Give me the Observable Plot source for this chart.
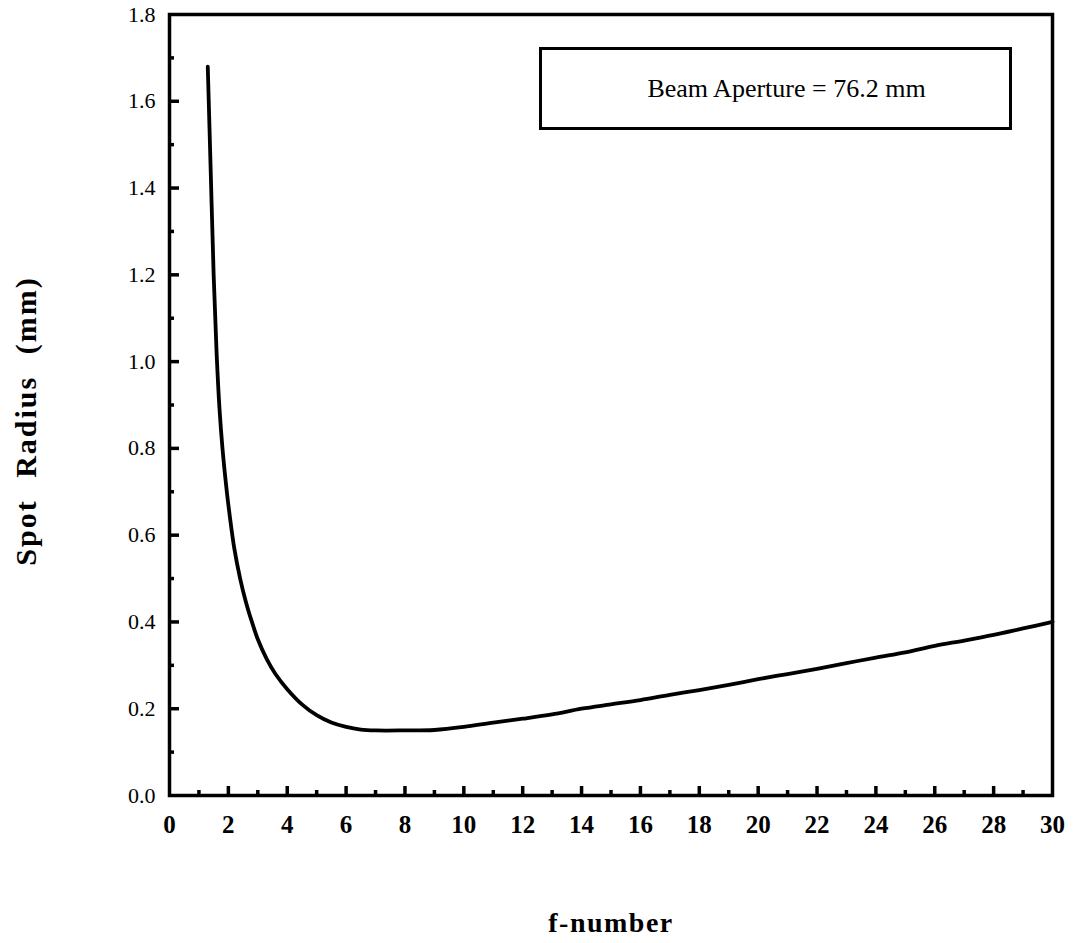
<!DOCTYPE html>
<html>
<head>
<meta charset="utf-8">
<script src="https://cdn.jsdelivr.net/npm/d3@7"></script>
<script src="https://cdn.jsdelivr.net/npm/@observablehq/plot@0.6"></script>
<style>
  html, body { margin: 0; padding: 0; background: #fff; }
  #wrap { position: relative; width: 1074px; height: 943px; }
  #legend {
    position: absolute; left: 539px; top: 47px; width: 445px; height: 77px;
    border: 3px solid #000; display: flex; align-items: center; justify-content: center;
    font-family: "Liberation Serif", "DejaVu Serif", serif; font-size: 26px; color: #000;
    padding-left: 22px; box-sizing: content-box;
  }
</style>
</head>
<body>
<div id="wrap"></div>
<script>
// ---- data ----
const fNumber = [1.3, 1.4, 1.5, 1.6, 1.7, 1.8, 1.9, 2.0, 2.2, 2.4, 2.6, 2.8, 3.0, 3.3, 3.6, 4.0, 4.5, 5.0, 5.5, 6.0, 6.5, 7.0, 8.0, 9.0, 10, 11, 12, 13, 14, 15, 16, 17, 18, 19, 20, 21, 22, 23, 24, 25, 26, 27, 28, 29, 30];
const spotRadius = [1.68, 1.44, 1.20, 1.02, 0.89, 0.80, 0.73, 0.67, 0.57, 0.50, 0.445, 0.40, 0.36, 0.315, 0.28, 0.245, 0.21, 0.185, 0.168, 0.158, 0.152, 0.150, 0.150, 0.151, 0.158, 0.168, 0.177, 0.187, 0.200, 0.210, 0.220, 0.232, 0.243, 0.255, 0.268, 0.280, 0.292, 0.305, 0.318, 0.330, 0.345, 0.357, 0.370, 0.385, 0.400];
const xTicks = [0, 2, 4, 6, 8, 10, 12, 14, 16, 18, 20, 22, 24, 26, 28, 30];
const xMinorTicks = [1, 3, 5, 7, 9, 11, 13, 15, 17, 19, 21, 23, 25, 27, 29];
const yTicks = [0.0, 0.2, 0.4, 0.6, 0.8, 1.0, 1.2, 1.4, 1.6, 1.8];
const yMinorTicks = [0.1, 0.3, 0.5, 0.7, 0.9, 1.1, 1.3, 1.5, 1.7];
const legendText = "Beam Aperture = 76.2 mm";
const xLabel = "f-number";
const yLabel = "Spot Radius (mm)";

const data = fNumber.map((f, i) => ({f, r: spotRadius[i]}));

const W = 1074, H = 943;
const mL = 169, mR = 22, mT = 14, mB = 148;
const xDom = [0, 30], yDom = [0, 1.8];
const innerW = W - mL - mR, innerH = H - mT - mB;
const pxY = (yDom[1] - yDom[0]) / innerH;
const pxX = (xDom[1] - xDom[0]) / innerW;

const serif = "'Liberation Serif', 'DejaVu Serif', serif";

const chart = Plot.plot({
  width: W, height: H,
  marginLeft: mL, marginRight: mR, marginTop: mT, marginBottom: mB,
  style: {fontFamily: serif, background: "#fff", color: "#000"},
  x: {domain: xDom},
  y: {domain: yDom},
  marks: [
    // inward ticks
    Plot.ruleX(xTicks.filter(d => d > 0 && d < 30), {x: d => d, y1: yDom[0], y2: yDom[0] + 9 * pxY, stroke: "#000", strokeWidth: 3.5}),
    Plot.ruleX(xMinorTicks, {x: d => d, y1: yDom[0], y2: yDom[0] + 5 * pxY, stroke: "#000", strokeWidth: 3.5}),
    Plot.ruleY(yTicks.filter(d => d > 0 && d < 1.8), {y: d => d, x1: xDom[0], x2: xDom[0] + 10 * pxX, stroke: "#000", strokeWidth: 3.5}),
    Plot.ruleY(yMinorTicks, {y: d => d, x1: xDom[0], x2: xDom[0] + 5 * pxX, stroke: "#000", strokeWidth: 3.5}),
    Plot.axisX({ticks: xTicks, tickSize: 0, tickPadding: 20, fontSize: 25, fontWeight: "bold", tickFormat: d => String(d), label: null}),
    Plot.axisY({ticks: yTicks, tickSize: 0, tickPadding: 14, fontSize: 22, tickFormat: d => d.toFixed(1), label: null}),
    Plot.line(data, {x: "f", y: "r", stroke: "#000", strokeWidth: 3.8, curve: "catmull-rom"}),
    Plot.frame({stroke: "#000", strokeWidth: 3.5}),
    Plot.text([xLabel], {frameAnchor: "bottom", text: d => d, dy: 136, fontSize: 28, fontWeight: "bold", fill: "#000"}),
    Plot.text([yLabel], {frameAnchor: "left", textAnchor: "middle", text: d => d, dx: -143, dy: 16, rotate: -90, fontSize: 30, fontWeight: "bold", fill: "#000"})
  ]
});

const wrap = document.getElementById("wrap");
wrap.appendChild(chart);
const lg = document.createElement("div");
lg.id = "legend";
lg.textContent = legendText;
wrap.appendChild(lg);

// font styling for tick labels and titles
const xs = new Set(xTicks.map(String));
const ys = new Set(yTicks.map(d => d.toFixed(1)));
chart.querySelectorAll("text").forEach(t => {
  const s = t.textContent;
  if (s === yLabel) { t.style.letterSpacing = "2px"; t.style.wordSpacing = "12px"; }
  else if (s === xLabel) { t.style.letterSpacing = "1.5px"; }
  else if (ys.has(s)) { t.style.fontSize = "22px"; }
  else if (xs.has(s)) { t.style.fontSize = "25px"; t.style.fontWeight = "bold"; }
});
</script>
</body>
</html>
